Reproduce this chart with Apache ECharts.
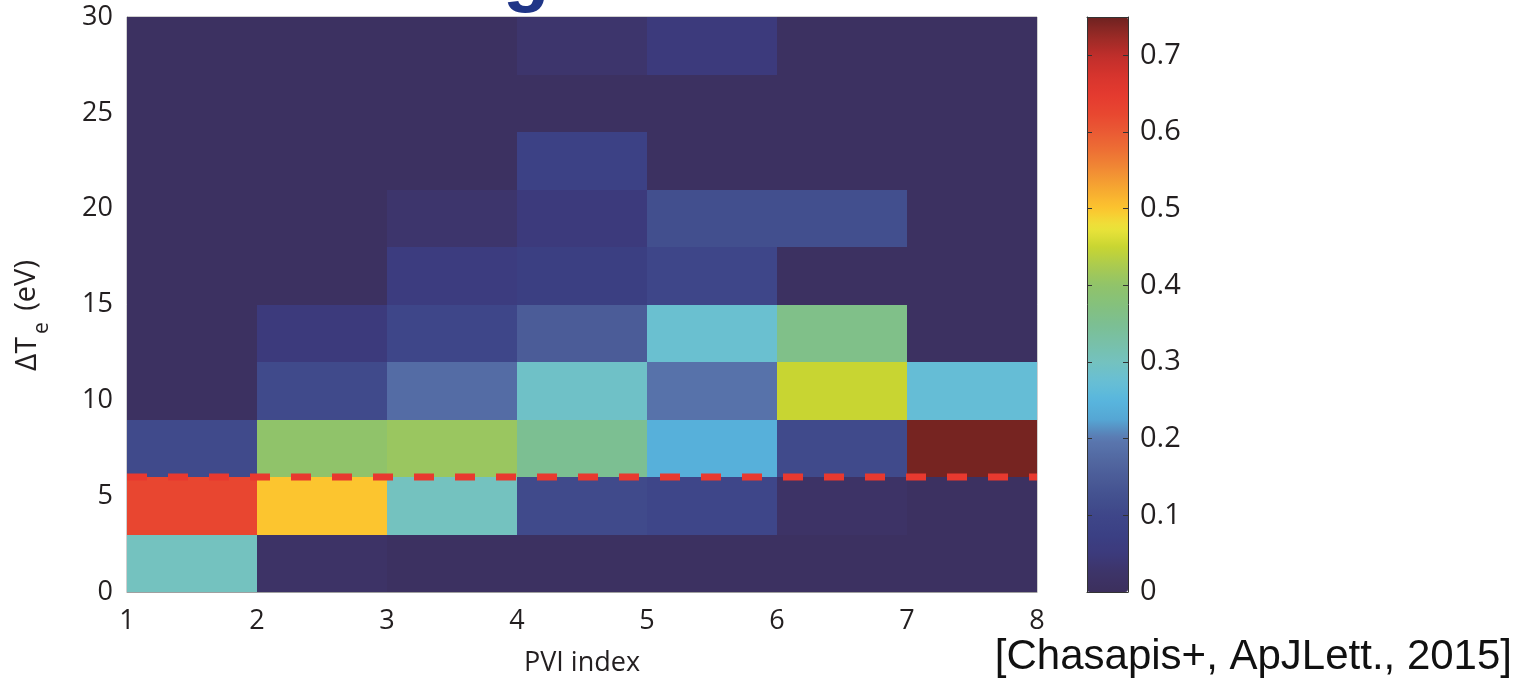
<!DOCTYPE html>
<html>
<head>
<meta charset="utf-8">
<script src="https://cdn.jsdelivr.net/npm/echarts@6/dist/echarts.min.js"></script>
<style>
  html, body { margin: 0; padding: 0; background: #ffffff; }
  #chart { width: 1529px; height: 689px; }
</style>
</head>
<body>
<div id="chart"></div>
<script>
// Bin edges of the 2-D histogram
const PVI_EDGES = [1, 2, 3, 4, 5, 6, 7, 8];
const DTE_EDGES = [0, 3, 6, 9, 12, 15, 18, 21, 24, 27, 30];

// Normalised occurrence per ΔTe row (bottom to top), one value per PVI bin 1-2 … 7-8
const ROW_0_3   = [0.30, 0.02, 0.01, 0.01, 0.01, 0.01, 0.01];
const ROW_3_6   = [0.625, 0.50, 0.30, 0.11, 0.10, 0.02, 0.01];
const ROW_6_9   = [0.11, 0.40, 0.41, 0.35, 0.24, 0.11, 0.745];
const ROW_9_12  = [0.01, 0.11, 0.18, 0.29, 0.19, 0.45, 0.27];
const ROW_12_15 = [0.01, 0.05, 0.10, 0.15, 0.28, 0.36, 0.01];
const ROW_15_18 = [0.01, 0.01, 0.06, 0.07, 0.10, 0.01, 0.01];
const ROW_18_21 = [0.01, 0.01, 0.03, 0.05, 0.12, 0.12, 0.01];
const ROW_21_24 = [0.01, 0.01, 0.01, 0.08, 0.01, 0.01, 0.01];
const ROW_24_27 = [0.01, 0.01, 0.01, 0.01, 0.01, 0.01, 0.01];
const ROW_27_30 = [0.01, 0.01, 0.01, 0.03, 0.05, 0.01, 0.01];
const ROWS = [ROW_0_3, ROW_3_6, ROW_6_9, ROW_9_12, ROW_12_15,
              ROW_15_18, ROW_18_21, ROW_21_24, ROW_24_27, ROW_27_30];

// Threshold marked by the dashed line (eV)
const THRESHOLD = 6;

// Colour scale range and colormap (evenly spaced stops from 0 to 0.75)
const C_MIN = 0, C_MAX = 0.75;
const COLORMAP = [
  '#3c2f5d', '#3d3468', '#3c3a7c', '#3b4084', '#3e4689', '#43518f', '#4b5c98', '#5369a2',
  '#5a78b0', '#55a6d4', '#58b6de', '#68bfd4', '#74c2bf', '#78c0a8', '#7cbf92', '#85c17c',
  '#90c36a', '#aacb50', '#c8d532', '#ece43a', '#fcc52f', '#f6a931', '#f18c34', '#ed7034',
  '#ea5a34', '#e84630', '#e43a2f', '#d5342d', '#bf2e2b', '#982a26', '#6d2220'
];

// Tick settings
const X_TICK_STEP = 1;
const Y_TICK_STEP = 5;
const C_TICK_STEP = 0.1;

// Build cell records [x0, x1, y0, y1, value]
const cells = [];
ROWS.forEach((row, j) => {
  row.forEach((v, i) => {
    cells.push([PVI_EDGES[i], PVI_EDGES[i + 1], DTE_EDGES[j], DTE_EDGES[j + 1], v]);
  });
});

const FONT = '"Open Sans", "Noto Sans", sans-serif';
const TXT = '#231f20';

const chart = echarts.init(document.getElementById('chart'), null, { renderer: 'canvas' });

chart.setOption({
  backgroundColor: '#ffffff',
  animation: false,
  grid: [
    { left: 127, top: 17, width: 910, height: 575, show: true, borderColor: '#a0a0a0', borderWidth: 1 },
    { left: 1087, top: 17, width: 41, height: 575 }
  ],
  xAxis: [
    {
      gridIndex: 0, type: 'value', min: PVI_EDGES[0], max: PVI_EDGES[PVI_EDGES.length - 1],
      interval: X_TICK_STEP,
      name: 'PVI index', nameLocation: 'middle', nameGap: 58,
      nameTextStyle: { fontFamily: FONT, fontSize: 27, color: TXT },
      axisLine: { show: true, lineStyle: { color: '#a0a0a0', width: 1 } },
      axisTick: { show: false },
      splitLine: { show: false },
      axisLabel: { fontFamily: FONT, fontSize: 27, color: TXT, margin: 16 }
    },
    {
      gridIndex: 1, type: 'value', min: 0, max: 1, position: 'bottom', z: 10,
      axisLine: { show: true, onZero: false, lineStyle: { color: '#333333', width: 1 } },
      axisTick: { show: false }, axisLabel: { show: false }, splitLine: { show: false }
    },
    {
      gridIndex: 1, type: 'value', min: 0, max: 1, position: 'top', z: 10,
      axisLine: { show: true, onZero: false, lineStyle: { color: '#333333', width: 1 } },
      axisTick: { show: false }, axisLabel: { show: false }, splitLine: { show: false }
    }
  ],
  yAxis: [
    {
      gridIndex: 0, type: 'value', min: DTE_EDGES[0], max: DTE_EDGES[DTE_EDGES.length - 1],
      interval: Y_TICK_STEP,
      name: '{m|ΔT}{s|e}{t| (eV)}', nameLocation: 'middle', nameRotate: 90, nameGap: 74,
      nameTextStyle: {
        fontFamily: FONT, color: TXT,
        rich: {
          m: { fontFamily: FONT, fontSize: 30, color: TXT, lineHeight: 52, verticalAlign: 'middle' },
          s: { fontFamily: FONT, fontSize: 21, color: TXT, lineHeight: 22, verticalAlign: 'bottom',
               padding: [0, 4, 0, 3] },
          t: { fontFamily: FONT, fontSize: 29, color: TXT, lineHeight: 52, verticalAlign: 'middle',
               padding: [0, 22, 0, 0] }
        }
      },
      axisLine: { show: true, lineStyle: { color: '#a0a0a0', width: 1 } },
      axisTick: { show: false },
      splitLine: { show: false },
      axisLabel: { fontFamily: FONT, fontSize: 27, color: TXT, margin: 14 }
    },
    {
      gridIndex: 1, type: 'value', min: C_MIN, max: C_MAX, interval: C_TICK_STEP,
      position: 'right', z: 10,
      axisLine: { show: true, onZero: false, lineStyle: { color: '#333333', width: 1 } },
      axisTick: { show: true, inside: true, length: 5, lineStyle: { color: '#333333', width: 1 } },
      splitLine: { show: false },
      axisLabel: { fontFamily: FONT, fontSize: 29, color: TXT, margin: 12, showMaxLabel: false }
    },
    {
      gridIndex: 1, type: 'value', min: C_MIN, max: C_MAX, interval: C_TICK_STEP,
      position: 'left', z: 10,
      axisLine: { show: true, onZero: false, lineStyle: { color: '#333333', width: 1 } },
      axisTick: { show: true, inside: true, length: 5, lineStyle: { color: '#333333', width: 1 } },
      splitLine: { show: false },
      axisLabel: { show: false }
    }
  ],
  visualMap: {
    type: 'continuous', min: C_MIN, max: C_MAX, dimension: 4, seriesIndex: 0,
    calculable: false, realtime: false, hoverLink: false,
    orient: 'vertical', left: 1087, top: 17, itemWidth: 41, itemHeight: 575,
    padding: 0, text: null, showLabel: false,
    inRange: { color: COLORMAP }
  },
  series: [
    {
      type: 'custom', xAxisIndex: 0, yAxisIndex: 0, clip: true,
      encode: { x: [0, 1], y: [2, 3] },
      data: cells,
      renderItem: function (params, api) {
        const a = api.coord([api.value(0), api.value(3)]);
        const b = api.coord([api.value(1), api.value(2)]);
        const x0 = Math.round(a[0]), y0 = Math.round(a[1]);
        const x1 = Math.round(b[0]), y1 = Math.round(b[1]);
        return {
          type: 'rect',
          shape: { x: x0, y: y0, width: x1 - x0, height: y1 - y0 },
          style: { fill: api.visual('color') }
        };
      }
    },
    {
      type: 'line', xAxisIndex: 0, yAxisIndex: 0, z: 5,
      data: [[PVI_EDGES[0], THRESHOLD], [PVI_EDGES[PVI_EDGES.length - 1], THRESHOLD]],
      symbol: 'none', silent: true,
      lineStyle: { color: '#e8392f', width: 7, type: [20, 21], cap: 'butt' }
    }
  ],
  graphic: [
    {
      // lower edge of the slide heading above the figure
      type: 'text', left: 503, top: -62, z: 20, silent: true,
      style: {
        text: 'g',
        font: 'bold 76px "Liberation Sans", Arial, sans-serif',
        fill: '#1f3587'
      }
    },
    {
      type: 'text', right: 17, top: 636, z: 20,
      style: {
        text: '[Chasapis+, ApJLett., 2015]',
        font: '42px "Liberation Sans", Arial, sans-serif',
        fill: '#111111'
      }
    }
  ]
});
</script>
</body>
</html>
